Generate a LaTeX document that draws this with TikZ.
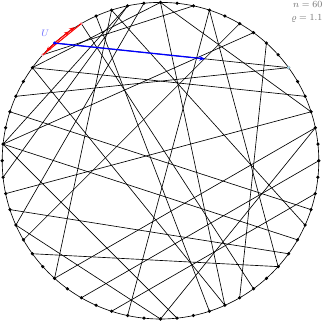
\documentclass[tikz,border=0pt]{standalone}
\usetikzlibrary{calc,arrows.meta,positioning}
\definecolor{ptpink}{RGB}{240,175,185}
\definecolor{ptcyan}{RGB}{165,210,228}
\tikzset{
  vertex/.style={circle, fill=black, inner sep=0pt, minimum size=3pt},
  chord/.style={black, line width=0.55pt},
  uarrow/.style={blue, line width=1.1pt, -{Stealth[length=5pt,width=4pt]}},
  iarrow/.style={red, line width=0.9pt, -{Stealth[length=4.5pt,width=3.6pt]}},
}

\begin{document}
\begin{tikzpicture}[x=0.03cm, y=0.03cm, font=\footnotesize]
            \useasboundingbox (-160.5,-161.3) rectangle (166.5,160.7);
            % points on the rim
            \foreach \k in {0,...,59}
                \coordinate (p\k) at ({6*\k}:158.3);
            \draw[chord] (0,0) circle[radius=158.3];

            % chords
            \foreach \a/\b in {22/6, 23/13, 20/51, 24/4, 26/6, 24/49, 27/57,
                               29/55, 29/46, 29/9, 29/17, 3/32, 50/8, 53/12,
                               36/53, 38/18, 40/0, 38/2, 17/31, 16/34,
                               15/49, 15/24, 15/3, 33/54, 42/58,
                               45/34, 45/2, 19/48, 12/43, 18/56, 10/35}
                \draw[chord] (p\a) -- (p\b);

            % dots
            \foreach \k in {0,...,19,24,25,...,59}
                \node[vertex] (v\k) at (p\k) {};
            \node[vertex, fill=ptcyan] (v6) at (p6) {};
            \node[vertex, fill=ptpink] (v20) at (p20) {};
            \node[vertex, fill=ptpink] (v23) at (p23) {};

            % U and its arrows
            \coordinate (utip) at ($(p22)!0.643!(p6)$);
            \coordinate (rdown) at ($(p22)!0.73!(p23)$);
            \coordinate (rup) at ($(p22)!1.14!(p21)$);
            \coordinate (rup2) at ($(p22)!1.53!(p21)$);
            \draw[red, line width=0.9pt] (p23) -- (p20);
            \draw[iarrow] (p22) -- (rdown);
            \draw[iarrow] (p22) -- (rup);
            \draw[iarrow] (rup) -- (rup2);
            \draw[uarrow] (p22) -- (utip);
            \node[vertex, fill=blue] (v22) at (p22) {};
            \node[text=blue!60, above left=1pt and 0pt of v22] (ulab) {$U$};

            % parameters
            \node[text=black!55, anchor=east] (nlab) at (166,156.2) {$n = 60$};
            \node[text=black!55, anchor=east] (rholab) at (166,142.2) {$\varrho = 1.1$};
        \end{tikzpicture}
\end{document}
